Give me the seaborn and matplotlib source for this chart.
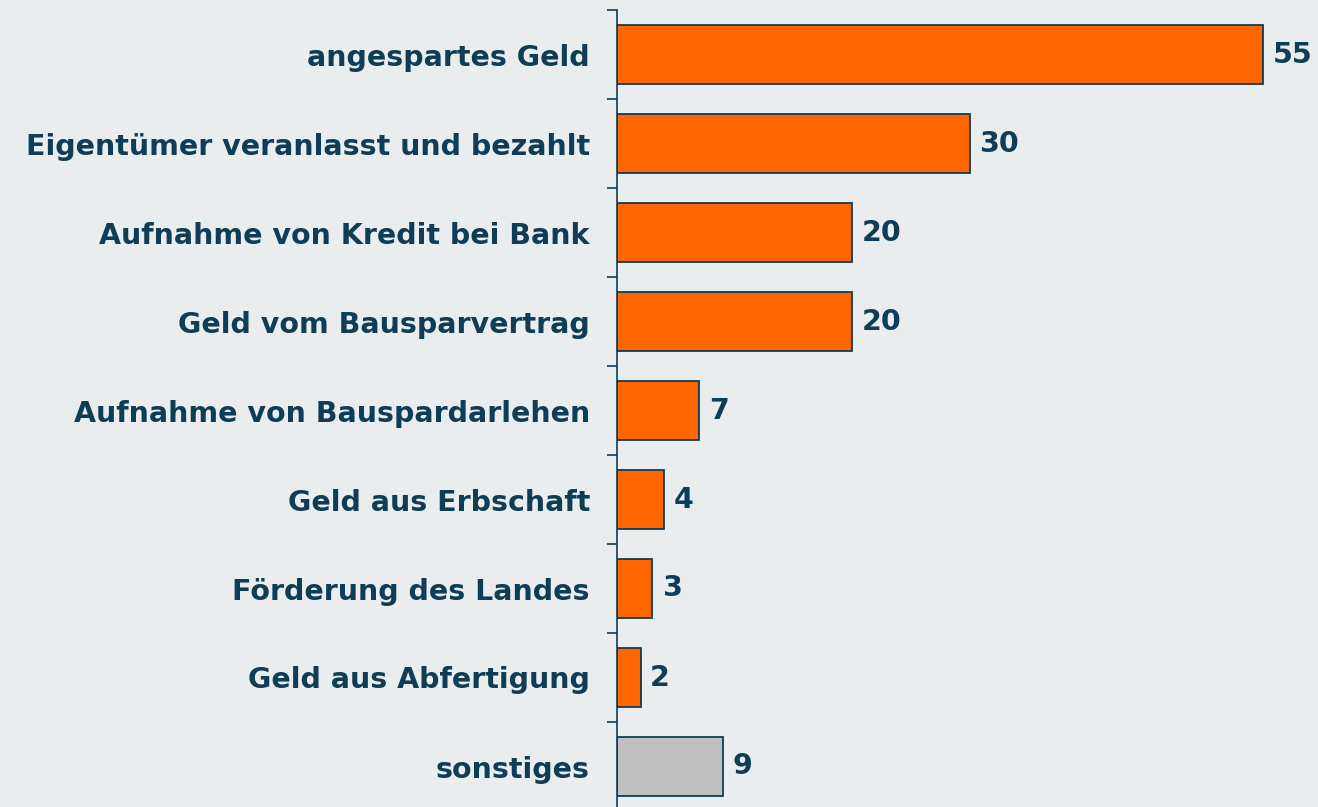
import matplotlib
matplotlib.use("Agg")
import matplotlib.pyplot as plt
import seaborn as sns
import pandas as pd
import numpy as np

categories = [
    "angespartes Geld",
    "Eigentümer veranlasst und bezahlt",
    "Aufnahme von Kredit bei Bank",
    "Geld vom Bausparvertrag",
    "Aufnahme von Bauspardarlehen",
    "Geld aus Erbschaft",
    "Förderung des Landes",
    "Geld aus Abfertigung",
    "sonstiges",
]
values = [55, 30, 20, 20, 7, 4, 3, 2, 9]
bar_colors = ["#FF6600"] * 8 + ["#C0C0C0"]

BG = "#E9EDEE"
DARK = "#0E3D55"

sns.set_theme(style="white")
plt.rcParams["font.family"] = ["DejaVu Sans"]

df = pd.DataFrame({"cat": categories, "val": values})

fig = plt.figure(figsize=(13.18, 8.07), dpi=100, facecolor=BG)
ax = fig.add_axes([617 / 1318, -4 / 807, 1 - 617 / 1318, 801 / 807])
ax.set_facecolor(BG)

sns.barplot(data=df, y="cat", x="val", hue="cat", palette=bar_colors,
            legend=False, orient="h", width=0.67, edgecolor=DARK,
            linewidth=1.3, ax=ax, saturation=1)

ax.set_xlim(0, (1318 - 617) / 11.75)
ax.set_ylim(len(categories) - 0.5, -0.5)
ax.set_xlabel("")
ax.set_ylabel("")
ax.set_xticks([])

for c in ax.containers:
    ax.bar_label(c, fmt="%g", padding=7,
                 fontsize=20.5, fontweight="bold", color=DARK)

ax.set_yticks(range(len(categories)))
ax.set_yticklabels(categories, fontsize=20.5, fontweight="bold", color=DARK)
ax.tick_params(axis="y", which="major", length=0, pad=19.5)
ax.set_yticks(np.arange(-0.5, len(categories), 1.0), minor=True)
ax.tick_params(axis="y", which="minor", length=7.5, width=1.2, color=DARK, left=True)

for s in ["top", "right", "bottom"]:
    ax.spines[s].set_visible(False)
ax.spines["left"].set_color(DARK)
ax.spines["left"].set_linewidth(1.2)

fig.savefig("out.png", dpi=100, facecolor=BG)
